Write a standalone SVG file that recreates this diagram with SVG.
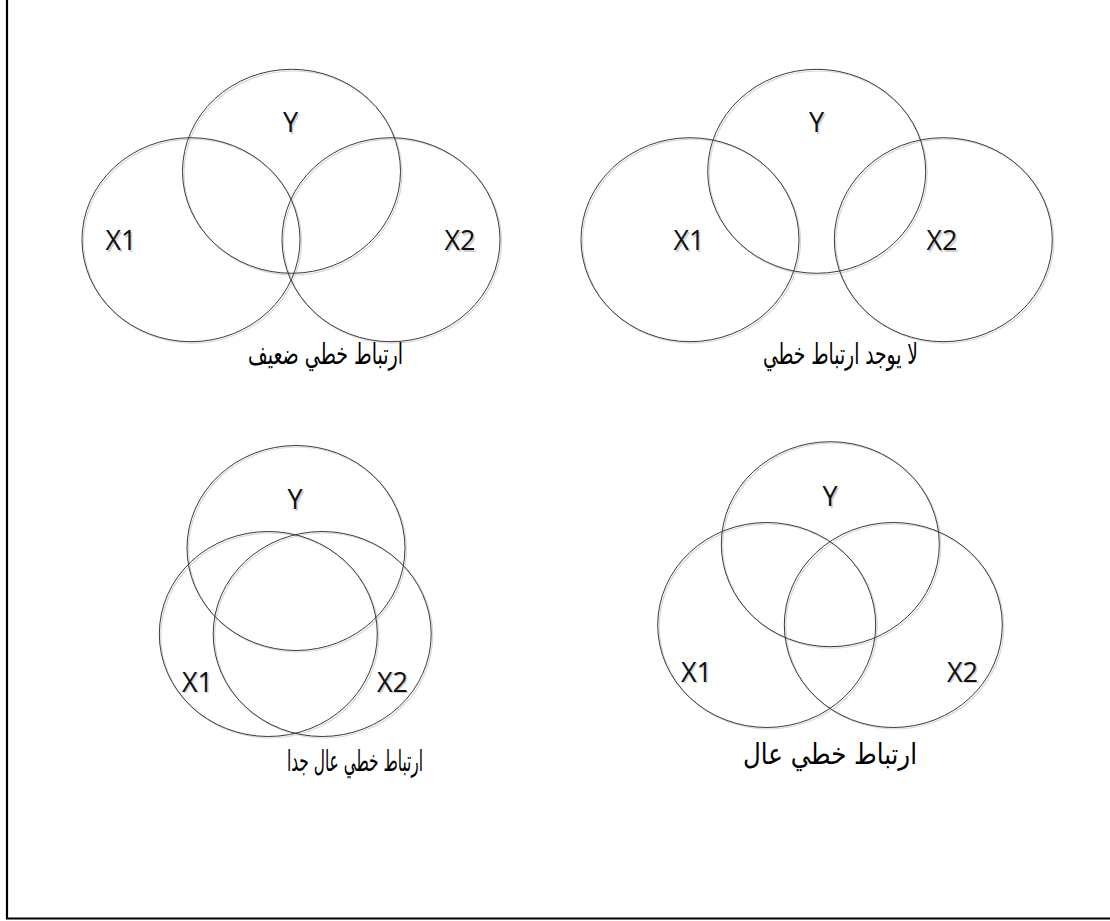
<svg xmlns="http://www.w3.org/2000/svg" width="1110" height="921" viewBox="0 0 1110 921">
<style>
.c{fill:none;stroke:#3a3a3a;stroke-width:1}
.cs{fill:none;stroke:#d8d8d8;stroke-width:1.2}
.l{font-family:"Open Sans","DejaVu Sans",sans-serif;font-size:27px;fill:#111;text-anchor:middle}
.ls{font-family:"Open Sans","DejaVu Sans",sans-serif;font-size:27px;fill:#cfcfcf;text-anchor:middle}
.a{font-family:"DejaVu Sans","Noto Sans",sans-serif;font-size:29px;fill:#000;text-anchor:middle}
</style>
<rect x="0" y="0" width="1110" height="921" fill="#fff"/>
<g id="frame"><path d="M7 0 V918.5 H1110" fill="none" stroke="#000" stroke-width="2.2"/></g>
<g id="weak">
<ellipse class="cs" cx="192.5" cy="241.2" rx="109" ry="102"/>
<ellipse class="cs" cx="293" cy="173" rx="109" ry="102"/>
<ellipse class="cs" cx="392.5" cy="241.2" rx="109" ry="102"/>
<ellipse class="c" cx="191" cy="239.7" rx="109" ry="102"/>
<ellipse class="c" cx="291.5" cy="171.3" rx="109" ry="102"/>
<ellipse class="c" cx="391" cy="239.7" rx="109" ry="102"/>
<text class="ls" x="292" y="133.5">Y</text><text class="l" x="290.5" y="132">Y</text>
<text class="ls" x="122.5" y="251.5">X1</text><text class="l" x="121" y="250">X1</text>
<text class="ls" x="461.5" y="251.5">X2</text><text class="l" x="460" y="250">X2</text>
<text class="a" x="325.5" y="364" textLength="155" lengthAdjust="spacingAndGlyphs">ارتباط خطي ضعيف</text>
</g>
<g id="none">
<ellipse class="cs" cx="691.5" cy="241.2" rx="109" ry="102"/>
<ellipse class="cs" cx="818.2" cy="173" rx="109" ry="102"/>
<ellipse class="cs" cx="944.8" cy="241.2" rx="109" ry="102"/>
<ellipse class="c" cx="690" cy="239.7" rx="109" ry="102"/>
<ellipse class="c" cx="816.7" cy="171.3" rx="109" ry="102"/>
<ellipse class="c" cx="943.3" cy="239.7" rx="109" ry="102"/>
<text class="ls" x="818" y="133.5">Y</text><text class="l" x="816.5" y="132">Y</text>
<text class="ls" x="690.5" y="251.5">X1</text><text class="l" x="689" y="250">X1</text>
<text class="ls" x="943.5" y="251.5">X2</text><text class="l" x="942" y="250">X2</text>
<text class="a" x="840.5" y="364" textLength="155" lengthAdjust="spacingAndGlyphs">لا يوجد ارتباط خطي</text>
</g>
<g id="veryhigh">
<ellipse class="cs" cx="297.5" cy="549.5" rx="109" ry="102.5"/>
<ellipse class="cs" cx="269.8" cy="635.5" rx="109" ry="102.5"/>
<ellipse class="cs" cx="323.7" cy="635.5" rx="109" ry="102.5"/>
<ellipse class="c" cx="296" cy="548" rx="109" ry="102.5"/>
<ellipse class="c" cx="268.3" cy="634" rx="109" ry="102.5"/>
<ellipse class="c" cx="322.2" cy="634" rx="109" ry="102.5"/>
<text class="ls" x="296.5" y="510.5">Y</text><text class="l" x="295" y="509">Y</text>
<text class="ls" x="199" y="693">X1</text><text class="l" x="197.5" y="691.5">X1</text>
<text class="ls" x="394" y="693">X2</text><text class="l" x="392.5" y="691.5">X2</text>
<text class="a" x="355" y="771" textLength="136" lengthAdjust="spacingAndGlyphs">ارتباط خطي عال جدا</text>
</g>
<g id="high">
<ellipse class="cs" cx="831.8" cy="545.7" rx="109" ry="102.5"/>
<ellipse class="cs" cx="768.2" cy="626.5" rx="109" ry="102.5"/>
<ellipse class="cs" cx="894.8" cy="626.5" rx="109" ry="102.5"/>
<ellipse class="c" cx="830.3" cy="544.2" rx="109" ry="102.5"/>
<ellipse class="c" cx="766.7" cy="625" rx="109" ry="102.5"/>
<ellipse class="c" cx="893.3" cy="625" rx="109" ry="102.5"/>
<text class="ls" x="831.5" y="507.5">Y</text><text class="l" x="830" y="506">Y</text>
<text class="ls" x="698" y="683">X1</text><text class="l" x="696.5" y="681.5">X1</text>
<text class="ls" x="964" y="683">X2</text><text class="l" x="962.5" y="681.5">X2</text>
<text class="a" x="830" y="764" textLength="174" lengthAdjust="spacingAndGlyphs">ارتباط خطي عال</text>
</g>
</svg>
